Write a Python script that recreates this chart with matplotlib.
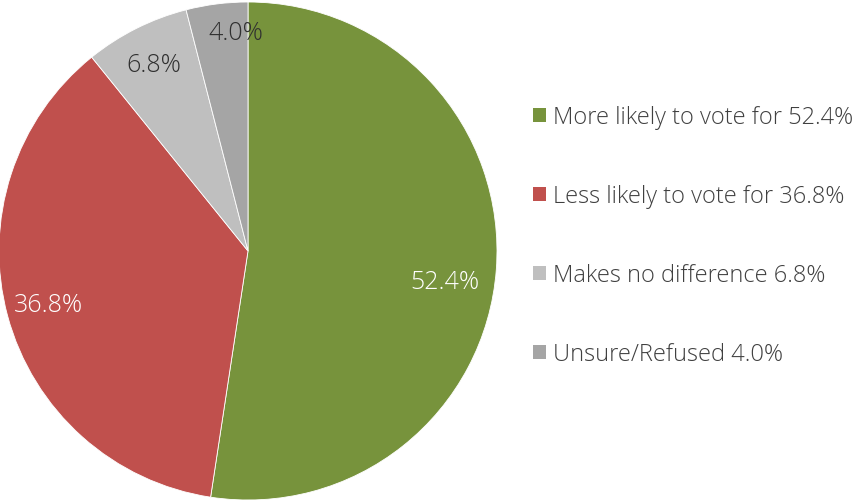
import matplotlib
matplotlib.use("Agg")
import matplotlib.pyplot as plt
import numpy as np

categories = ["More likely to vote for", "Less likely to vote for", "Makes no difference", "Unsure/Refused"]
values = [52.4, 36.8, 6.8, 4.0]
colors = ["#77933C", "#C0504D", "#BFBFBF", "#A5A5A5"]
label_colors = ["#FFFFFF", "#FFFFFF", "#303030", "#303030"]
label_dist = [0.80, 0.83, 0.84, 0.877]
label_angle_offset = [-4.4, 0.0, 0.0, -4.0]

plt.rcParams['font.family'] = ['Open Sans', 'DejaVu Sans']

W, H = 857, 502
fig = plt.figure(figsize=(W/100, H/100), dpi=100)
cx, cy, r = 248, 250, 249
ax = fig.add_axes([(cx - r)/W, (cy - r)/H, 2*r/W, 2*r/H])
wedges, _ = ax.pie(values, colors=colors, startangle=90, counterclock=False,
                   radius=1, wedgeprops=dict(edgecolor="white", linewidth=0.6))
ax.set_xlim(-1, 1)
ax.set_ylim(-1, 1)
ax.set_aspect("auto")
ax.axis("off")

for w, v, c, d, o in zip(wedges, values, label_colors, label_dist, label_angle_offset):
    ang = np.deg2rad((w.theta1 + w.theta2) / 2 + o)
    ax.text(d*np.cos(ang), d*np.sin(ang), f"{v:.1f}%", ha="center", va="center",
            fontsize=18, color=c, fontweight="light")

labels = [f"{c} {v:.1f}%" for c, v in zip(categories, values)]
leg = fig.legend(wedges, labels, loc="upper left", bbox_to_anchor=(533/W, 1 - 106/H),
                 frameon=False, fontsize=17, handlelength=0.55, handleheight=0.55,
                 handletextpad=0.3, labelspacing=2.33, borderpad=0, borderaxespad=0)
for t in leg.get_texts():
    t.set_color("#404040")
    t.set_fontweight("light")
for h in leg.legend_handles:
    h.set_edgecolor("none")

fig.savefig("out.png", dpi=100)
